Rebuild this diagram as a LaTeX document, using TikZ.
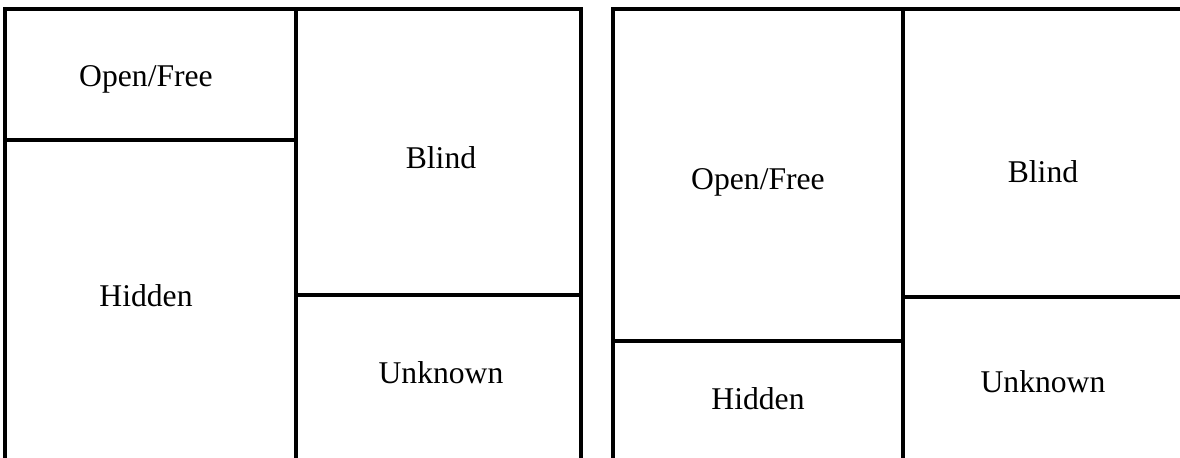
\documentclass[tikz,border=0pt]{standalone}
\usepackage{fontspec}
\setmainfont{Liberation Serif}
\usetikzlibrary{positioning}

\begin{document}
\begin{tikzpicture}[
  x=0.025cm, y=-0.025cm,
  pane/.style={draw=black, line width=2.6pt, line cap=rect},
  label/.style={font=\fontsize{22.5}{27}\selectfont, inner sep=0pt, anchor=center}
]
  \useasboundingbox (0,0) rectangle (1180,458);

  % left window
  \draw[pane] (5,458) -- (5,9) -- (581,9) -- (581,458);
  \draw[pane] (296,9) -- (296,458);
  \draw[pane] (5,140) -- (296,140);
  \draw[pane] (296,295) -- (581,295);

  \node[label] (openL)    at (146,79)  {Open/Free};
  \node[label] (blindL)   at (441,158) {Blind};
  \node[label] (hiddenL)  at (146,296) {Hidden};
  \node[label] (unknownL) at (441,373) {Unknown};

  % right window
  \draw[pane] (613,458) -- (613,9) -- (1185,9);
  \draw[pane] (903,9) -- (903,458);
  \draw[pane] (613,341) -- (903,341);
  \draw[pane] (903,297) -- (1185,297);

  \node[label] (openR)    at (758,182)  {Open/Free};
  \node[label] (blindR)   at (1043,172) {Blind};
  \node[label] (hiddenR)  at (758,399)  {Hidden};
  \node[label] (unknownR) at (1043,382) {Unknown};
\end{tikzpicture}
\end{document}
